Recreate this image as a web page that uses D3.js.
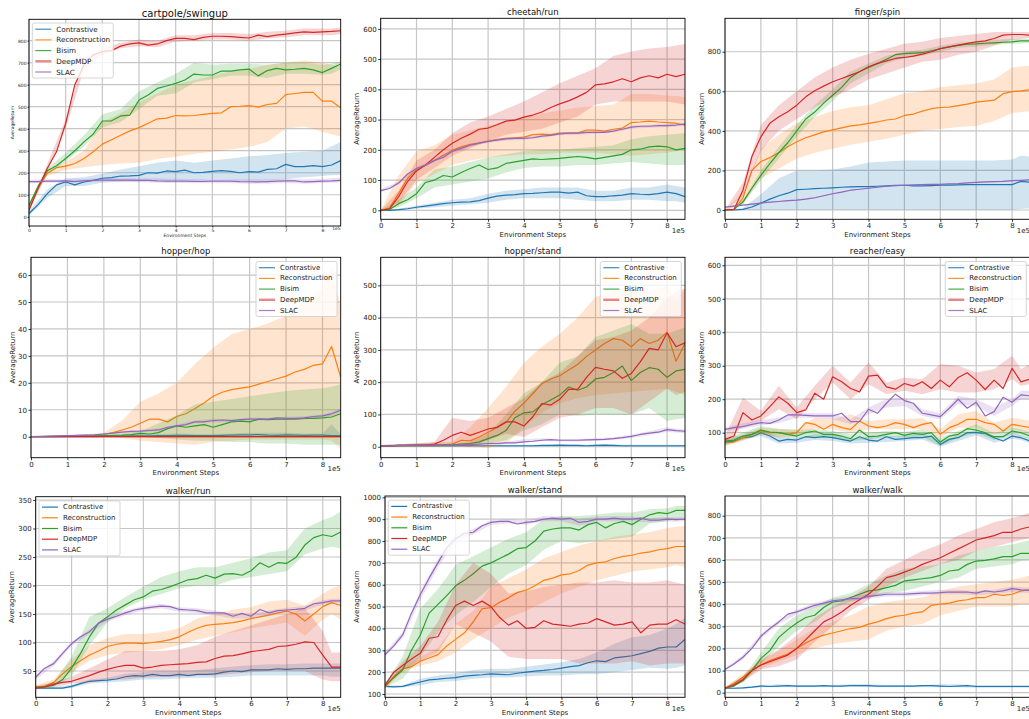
<!DOCTYPE html>
<html><head><meta charset="utf-8">
<script src="https://cdn.jsdelivr.net/npm/d3@7"></script>
<style>
body{margin:0;background:#fff;}
svg{display:block;font-family:"DejaVu Sans",sans-serif;}
</style></head><body>
<svg id="chart" width="1029" height="719"></svg>
<script>
// ---------- shared ----------
const SERIES = ["Contrastive","Reconstruction","Bisim","DeepMDP","SLAC"];
const COLORS = ["#1f77b4","#ff7f0e","#2ca02c","#d62728","#9467bd"];
// environment steps of the mean curves and of the shaded bands
const STEPS = [0,25000,50000,75000,100000,125000,150000,175000,200000,225000,250000,275000,300000,325000,350000,375000,400000,425000,450000,475000,500000,525000,550000,575000,600000,625000,650000,675000,700000,725000,750000,775000,800000,825000,850000];
const BAND_STEPS = [0,50000,100000,150000,200000,250000,300000,350000,400000,450000,500000,550000,600000,650000,700000,750000,800000,825000,850000];
const X_TICKS = [0,100000,200000,300000,400000,500000,600000,700000,800000];

// ---------- cartpole/swingup ----------
const cartpoleYTicks = [0,100,200,300,400,500,600,700,800];
const cartpoleMean = [
 [15,55,105,145,158,145,158,165,175,178,185,186,188,200,198,208,205,212,200,202,206,210,206,200,205,203,215,218,238,228,228,232,228,235,255],
 [50,135,197,223,230,242,265,295,330,350,370,390,405,425,445,448,460,458,460,465,470,472,500,502,505,498,510,515,555,560,565,565,525,525,495],
 [50,140,209,232,265,300,340,375,435,436,458,462,530,553,583,594,606,621,648,644,644,662,662,667,671,640,664,674,667,670,674,667,655,674,694],
 [30,130,220,295,424,600,690,735,750,755,775,785,790,780,785,800,810,810,805,815,820,820,818,815,812,825,818,825,830,835,840,838,840,842,845],
 [160,160,162,162,163,160,163,165,166,167,166,166,165,165,163,162,162,162,161,161,162,162,162,160,159,158,160,162,163,163,158,160,162,163,165]];
const cartpoleLo = [
 [5,85,140,140,155,160,160,165,165,165,170,168,160,165,170,180,185,188,190],
 [40,185,212,225,235,242,245,262,273,285,295,305,318,340,400,410,386,375,364],
 [40,195,250,320,405,430,490,550,560,610,625,640,640,630,650,650,645,650,670],
 [20,205,400,670,735,765,775,770,795,800,805,805,800,810,815,825,825,825,830],
 [152,155,155,157,160,158,157,155,153,152,152,152,150,150,153,150,153,155,157]];
const cartpoleHi = [
 [25,125,175,180,195,215,230,245,255,245,255,265,275,280,290,295,300,320,340],
 [60,210,250,300,430,470,520,560,600,620,640,660,670,690,700,710,700,690,680],
 [60,220,290,370,465,490,570,610,650,700,690,695,695,690,700,700,690,695,705],
 [40,240,445,720,765,790,805,800,825,825,835,835,830,840,845,855,855,855,860],
 [168,170,170,172,175,175,175,175,173,172,172,172,170,170,173,170,173,175,177]];

// ---------- cheetah/run ----------
const cheetahYTicks = [0,100,200,300,400,500,600];
const cheetahMean = [
 [0,0,2,5,10,14,18,22,25,27,28,32,40,47,50,52,55,56,58,60,60,57,60,48,45,45,48,50,55,53,52,55,60,55,45],
 [0,8,55,105,135,148,165,182,198,210,218,222,228,235,238,240,242,250,252,250,255,255,255,265,265,262,268,272,290,292,295,292,290,288,282],
 [0,3,22,35,55,92,100,115,110,125,138,150,135,140,155,160,165,170,168,170,172,175,178,175,170,175,180,185,200,202,210,212,210,200,205],
 [0,5,45,95,130,150,175,200,222,238,252,268,272,283,295,298,308,315,325,340,352,362,375,390,415,418,425,435,425,438,445,438,450,442,450],
 [65,72,90,120,138,150,165,175,195,205,215,222,228,232,236,238,238,240,245,248,253,255,255,258,258,258,262,268,275,278,278,280,280,282,285]];
const cheetahLo = [
 [0,0,5,10,15,20,25,35,40,40,40,35,30,30,35,35,30,30,25],
 [0,15,90,120,150,165,175,180,185,185,190,190,190,185,180,185,190,195,200],
 [0,10,40,75,85,95,105,125,140,145,145,150,150,155,160,155,150,150,150],
 [0,25,100,140,180,205,230,250,260,270,290,310,350,360,360,360,360,355,350],
 [60,85,133,160,190,210,223,231,233,240,248,250,253,257,270,273,275,277,280]];
const cheetahHi = [
 [0,5,15,25,35,40,55,65,70,75,75,75,65,65,75,75,85,80,75],
 [0,115,195,215,250,265,280,295,310,320,330,340,345,350,385,385,380,378,375],
 [0,35,75,135,145,160,175,185,195,200,200,205,210,215,235,245,250,252,255],
 [0,65,165,200,255,290,310,335,360,390,420,445,470,510,525,535,540,545,550],
 [70,95,143,170,200,220,233,241,243,250,258,260,263,267,280,283,285,287,290]];

// ---------- finger/spin ----------
const fingerYTicks = [0,200,400,600,800];
const fingerMean = [
 [0,0,3,15,35,55,72,85,103,105,108,110,112,115,117,118,118,120,122,125,125,122,122,123,125,126,127,128,128,128,128,128,128,145,140],
 [0,3,60,200,245,265,290,320,345,365,380,395,405,415,425,430,438,445,455,460,478,485,500,512,518,520,528,535,545,550,555,588,598,602,608],
 [0,3,40,110,175,235,290,340,400,460,495,540,580,620,670,700,720,740,762,785,790,793,795,805,815,825,832,838,840,843,845,848,850,855,855],
 [0,3,100,270,370,438,471,497,530,572,603,626,648,665,682,699,724,741,754,766,771,778,788,800,816,825,833,842,850,855,867,884,887,887,884],
 [15,20,25,30,35,40,43,47,50,55,62,72,82,90,100,105,110,115,120,123,125,127,128,130,130,132,133,137,140,142,143,145,148,150,152]];
const fingerLo = [
 [0,0,0,0,0,0,0,0,0,0,0,0,0,0,0,0,0,5,10],
 [0,30,160,210,260,290,310,330,345,360,380,400,410,420,425,450,490,495,500],
 [0,30,150,260,370,470,550,640,690,740,770,780,800,820,825,835,840,842,845],
 [0,70,300,400,460,520,570,610,660,690,720,750,760,785,800,830,860,865,870],
 [12,22,32,40,47,58,79,97,107,117,122,125,127,130,137,140,145,147,149]];
const fingerHi = [
 [0,10,80,160,200,200,205,220,240,245,250,250,250,250,250,250,255,275,270],
 [0,90,310,380,440,470,500,520,530,560,590,600,620,630,640,660,720,725,730],
 [0,50,200,320,430,530,610,700,740,780,800,810,830,845,850,860,865,865,865],
 [0,140,430,530,600,670,720,760,790,815,840,850,870,880,890,900,900,900,900],
 [18,28,38,46,53,66,85,103,113,123,128,131,133,136,143,146,151,153,155]];

// ---------- hopper/hop ----------
const hopYTicks = [0,10,20,30,40,50,60];
const hopMean = [
 [0,0,0,0,0,0,0,0,0.1,0.2,0.2,0.3,0.3,0.3,0.4,0.4,0.5,0.5,0.4,0.4,0.4,0.5,0.6,0.7,0.7,0.8,0.6,0.5,0.7,0.6,0.5,0.6,0.6,0.4,0.4],
 [0,0,0.1,0.2,0.3,0.4,0.5,0.6,0.8,1.5,2.5,3.5,5,6.5,6.5,5.5,7.5,8.5,10.5,12.5,15,16.5,17.5,18,18.5,19.5,20.5,21.5,22.5,24,25,26.5,27,33.5,22],
 [0,0,0,0,0.1,0.1,0.2,0.3,0.4,0.5,0.6,0.8,1.2,1.0,1.5,3,4,3.5,4,4.5,3.5,4.5,5.5,5.8,5.5,6.5,6.3,6.5,6.5,6.5,6.8,6.8,7,7.3,8.5],
 [0,0,0,0,0,0,0,0,0,0,0,0,0,0,0,0,0,0,0,0,0,0,0,0,0,0,0,0,0,0,0,0,0,0,0],
 [0,0.1,0.2,0.3,0.4,0.5,0.6,0.7,1,1.3,1.7,2,2.1,2.3,2.5,3.5,4,4.5,5.5,5.5,6,6.2,6,6.3,6.5,6.5,6.5,7,6.8,6.8,7,7.5,7.7,8.5,9.8]];
const hopLo = [
 [0,0,0,0,-0.3,-0.3,-0.3,-0.3,-0.3,-0.3,-0.3,-0.3,-0.3,-0.3,-0.3,-0.3,-0.3,-0.3,-0.3],
 [0,0,0,0,0,-0.5,-1.5,-2,-2.5,-3,-2,-1.5,-1,-1,-1,-1,-1,-1.5,-4.5],
 [0,0,0,0,0,0,0,-0.5,-1,-1.5,-1.5,-2,-2,-2.5,-2.5,-3,-3,-3,-3],
 [-0.2,-0.2,-0.2,-0.2,-0.2,-0.2,-0.2,-0.2,-0.2,-0.2,-0.2,-0.2,-0.2,-0.2,-0.2,-0.2,-0.2,-0.2,-0.2],
 [0,0,0.2,0.4,0.7,1.2,1.6,2,3.5,5,5.3,5.5,6,6,6.2,6.4,7.1,7.8,9.1]];
const hopHi = [
 [0,0,0,0,0.5,0.7,0.8,1,1.2,1,1,1.2,1.5,1.5,1.5,1.2,1.2,4.5,1],
 [0,0.2,0.5,0.8,1.5,6,13,16,20,27,33,38,40,42,45,50,55,63,48],
 [0,0,0,0,0.5,1,2,5,8,12,13,14,15,16,17,17.5,18,18.5,19.5],
 [0.2,0.2,0.2,0.2,0.2,0.2,0.2,0.2,0.2,0.2,0.2,0.2,0.2,0.2,0.2,0.2,0.2,0.2,0.2],
 [0,0.4,0.6,0.8,1.3,2.2,2.6,3,4.5,6,6.7,6.5,7,7,7.4,7.6,8.3,9.2,10.5]];

// ---------- hopper/stand ----------
const standYTicks = [0,100,200,300,400,500];
const standMean = [
 [2,2,3,3,3,3,3,3,3,3,3,3,3,3,3,3,3,3,4,4,5,4,4,3,4,5,4,3,3,3,3,3,3,3,3],
 [3,3,4,4,5,5,5,6,8,20,18,30,45,60,75,110,135,165,195,210,220,238,255,280,300,320,335,330,310,335,320,330,355,265,320],
 [3,3,3,4,4,4,5,5,5,8,10,15,25,35,50,90,105,108,130,145,160,185,175,185,210,215,230,250,205,230,245,240,215,235,240],
 [3,3,4,4,5,5,8,20,35,45,35,45,55,60,77,77,64,93,134,129,147,178,178,215,246,240,235,212,227,263,305,300,353,310,322],
 [3,3,4,4,5,5,5,5,6,6,7,8,10,10,12,12,15,17,20,22,20,20,20,21,22,23,25,28,32,38,42,45,53,50,48]];
const standLo = [
 [0,0,0,0,0,0,0,0,0,0,0,0,0,0,0,0,0,0,0],
 [0,0,0,0,0,-2,-5,10,60,105,135,150,160,165,170,175,180,170,160],
 [0,0,0,0,0,5,10,20,50,70,100,95,100,100,100,120,80,85,90],
 [0,0,0,0,5,0,20,40,30,60,90,100,120,120,100,140,180,160,170],
 [1,2,3,3,4,5,7,9,13,18,16,16,18,21,27,36,46,44,42]];
const standHi = [
 [4,5,6,6,6,6,6,6,6,6,7,7,7,7,6,6,6,6,6],
 [5,8,10,15,15,60,120,185,260,310,350,400,465,480,490,480,500,450,490],
 [5,8,10,10,10,15,40,100,165,200,260,280,340,360,380,350,350,360,370],
 [5,8,10,15,90,80,90,120,150,200,230,280,330,340,360,400,460,480,490],
 [5,6,7,7,8,9,13,15,23,26,24,24,26,29,37,48,60,56,54]];

// ---------- reacher/easy ----------
const reacherYTicks = [100,200,300,400,500,600];
const reacherMean = [
 [72,75,85,88,100,90,75,80,78,88,85,88,85,80,75,88,78,75,88,80,82,85,85,90,65,80,85,100,100,98,85,75,90,85,75],
 [70,72,85,95,105,100,100,95,100,130,125,110,125,115,110,135,120,115,120,130,125,115,125,130,95,115,125,140,140,130,125,105,125,120,115],
 [75,78,90,95,108,102,100,95,90,100,105,95,95,90,82,108,88,90,95,100,92,98,95,100,72,90,95,112,108,100,88,88,105,100,90],
 [80,90,160,138,150,178,207,188,160,168,218,200,267,252,232,222,269,272,237,230,247,239,252,232,257,237,265,279,257,229,257,232,292,252,260],
 [110,115,118,125,130,128,138,153,153,152,150,150,150,158,133,133,170,158,188,215,196,188,158,153,148,173,200,173,191,150,163,206,191,213,210]];
const reacherLo = [
 [62,78,90,68,70,78,75,68,70,72,75,80,58,75,92,70,82,78,68],
 [60,75,95,85,90,110,110,100,110,110,110,110,85,115,115,95,110,105,100],
 [65,80,95,88,85,85,85,75,80,88,85,88,60,85,100,78,95,90,80],
 [70,120,135,170,140,200,250,200,245,215,225,215,230,220,220,230,260,240,245],
 [105,112,122,128,145,145,140,125,155,175,180,150,140,185,180,150,180,200,200]];
const reacherHi = [
 [82,92,110,88,85,95,95,82,88,90,90,98,75,92,108,85,98,92,82],
 [80,95,115,110,110,145,140,155,135,140,140,145,110,155,165,130,145,140,135],
 [85,100,120,112,108,110,105,95,100,105,102,110,85,105,125,98,115,110,100],
 [90,205,165,240,175,240,300,250,310,250,265,260,305,300,280,290,330,290,305],
 [115,128,138,145,160,158,158,140,175,200,205,170,158,210,200,175,200,225,225]];

// ---------- walker/run ----------
const runYTicks = [50,100,150,200,250,300,350];
const runMean = [
 [20,20,20,20,23,28,32,33,34,36,40,42,41,44,42,42,44,42,44,44,45,48,50,49,52,52,52,54,53,54,54,55,55,55,55],
 [22,23,30,45,58,68,78,85,93,97,99,99,98,100,102,105,110,118,125,130,132,133,135,138,142,145,148,152,155,150,138,150,163,170,165],
 [22,22,25,35,55,81,110,134,145,157,166,175,180,190,193,198,204,210,212,218,213,220,221,218,226,240,232,240,239,249,271,284,289,286,294],
 [20,22,27,30,32,37,42,48,53,57,60,60,55,57,60,61,62,63,65,66,72,76,77,80,84,86,88,93,94,97,101,100,78,57,57],
 [39,55,63,81,98,110,119,134,141,146,152,157,160,162,164,163,158,157,156,152,152,152,146,151,146,158,152,156,157,158,160,168,170,173,173]];
const runLo = [
 [18,18,20,28,30,32,35,35,37,38,38,40,42,42,42,42,42,40,40],
 [20,27,48,68,78,82,85,88,95,105,112,118,125,130,135,112,140,150,140],
 [20,22,40,95,135,160,175,185,195,200,200,210,215,220,225,255,265,268,265],
 [18,22,28,30,35,35,38,40,40,42,42,45,48,50,50,50,35,32,32],
 [35,59,94,115,137,148,156,160,154,152,148,142,142,148,153,156,166,169,169]];
const runHi = [
 [22,22,26,35,38,45,48,50,50,52,55,58,60,62,62,63,63,63,63],
 [25,35,70,95,108,115,115,118,125,142,150,158,162,172,175,165,185,195,200],
 [24,30,75,145,160,180,198,215,225,232,232,240,248,258,262,300,315,320,330],
 [22,30,40,55,70,85,85,85,88,95,110,120,130,140,150,160,120,82,83],
 [43,67,102,123,145,156,164,168,162,160,156,150,150,156,161,164,174,177,177]];

// ---------- walker/stand ----------
const wstandYTicks = [100,200,300,400,500,600,700,800,900,1000];
const wstandMean = [
 [135,133,135,145,155,165,168,172,175,182,185,188,192,190,188,195,200,205,208,212,218,225,230,243,252,248,265,270,275,285,295,310,315,315,350],
 [130,180,215,225,250,265,280,320,350,380,430,490,495,520,540,565,575,595,620,630,645,650,665,690,700,705,720,730,735,745,750,760,765,775,775],
 [140,175,210,300,370,470,510,550,595,620,650,685,700,720,740,765,770,800,845,855,860,860,850,875,885,860,880,890,875,900,920,930,925,940,940],
 [140,200,230,260,286,355,362,439,505,525,505,525,500,450,415,435,400,405,435,420,415,410,420,425,445,430,415,420,430,380,415,420,420,440,420],
 [280,320,370,470,555,630,700,770,810,835,840,870,885,890,890,878,885,890,900,905,900,905,885,890,900,900,905,900,900,905,895,895,900,898,900]];
const wstandLo = [
 [130,130,140,155,160,170,175,175,180,185,185,190,190,200,210,220,215,220,230],
 [125,200,230,250,290,350,400,450,480,520,560,590,620,640,660,670,680,690,680],
 [130,170,270,380,460,520,590,650,690,760,800,790,800,810,820,880,890,900,910],
 [130,210,250,290,420,380,340,270,260,260,260,240,240,240,250,230,240,240,240],
 [270,355,530,680,800,830,875,880,875,890,890,870,890,890,890,885,890,888,890]];
const wstandHi = [
 [140,140,170,185,195,210,215,215,225,235,245,260,290,330,360,370,400,420,450],
 [135,230,270,310,420,480,590,630,670,720,750,780,800,820,830,840,860,865,870],
 [150,270,490,580,690,730,770,810,840,900,915,915,920,930,930,945,950,960,960],
 [150,250,320,430,600,700,650,560,570,590,600,610,610,620,610,610,620,610,600],
 [290,385,570,720,830,855,895,900,895,915,912,900,912,915,912,905,910,908,910]];

// ---------- walker/walk ----------
const walkYTicks = [0,100,200,300,400,500,600,700,800];
const walkMean = [
 [20,20,22,25,30,28,30,32,30,30,30,32,30,30,32,32,32,30,30,30,30,30,32,32,30,28,30,32,28,28,28,28,28,28,28],
 [20,40,70,100,125,145,160,175,200,225,245,260,270,280,290,295,310,320,335,345,350,360,365,395,400,405,415,420,430,430,445,440,445,460,465],
 [20,30,55,100,155,190,250,285,315,340,350,385,410,415,430,445,460,465,475,485,505,510,515,520,530,550,555,580,595,598,605,615,615,630,630],
 [20,35,60,100,125,140,155,170,200,240,280,320,340,365,395,420,445,480,520,530,545,560,580,595,610,630,650,670,690,700,710,725,725,740,750],
 [105,130,160,200,255,290,320,355,365,380,395,405,415,420,425,425,435,440,445,445,445,448,450,450,452,455,455,455,450,460,455,460,470,465,462]];
const walkLo = [
 [18,18,25,25,25,25,25,28,25,25,25,25,25,25,22,22,22,22,22],
 [18,55,110,140,170,200,220,230,240,280,300,310,350,370,390,390,390,400,400],
 [18,45,130,210,280,320,380,410,430,450,460,480,500,520,560,570,580,595,600],
 [18,50,105,120,150,230,300,370,420,480,520,550,580,600,640,660,680,690,700],
 [100,150,245,310,355,385,405,415,425,435,435,440,445,445,440,445,455,452,450]];
const walkHi = [
 [22,25,35,38,35,35,35,38,38,35,35,35,38,38,35,35,35,35,35],
 [25,85,145,190,240,290,320,350,390,410,420,430,460,480,490,500,510,520,530],
 [25,70,180,290,350,390,430,450,490,530,560,570,580,620,640,660,670,680,690],
 [25,75,150,195,260,340,390,430,480,560,600,640,670,710,740,770,790,800,815],
 [110,170,265,330,375,405,425,435,445,455,455,460,465,465,460,465,480,478,475]];

// ---------- layout ----------
const BIG = {tick:7, label:7, title:8.5, legend:7, tickLen:2.5, pad:1.5};
const panels = [
 {title:"cartpole/swingup", mean:cartpoleMean, lo:cartpoleLo, hi:cartpoleHi, yTicks:cartpoleYTicks,
  box:[29,19.3,340.7,226], yDomain:[-42,897], ylabX:12.3, legend:"ul", fadedDeep:true,
  f:{tick:4.5, label:4.5, title:10, legend:7.2, tickLen:1.5, pad:1}},
 {title:"cheetah/run", mean:cheetahMean, lo:cheetahLo, hi:cheetahHi, yTicks:cheetahYTicks,
  box:[380.7,18.3,685,219.3], yDomain:[-29.8,635], ylabX:357.3, legend:null, f:BIG},
 {title:"finger/spin", mean:fingerMean, lo:fingerLo, hi:fingerHi, yTicks:fingerYTicks,
  box:[725,18.3,1030,219.3], yDomain:[-47,969], ylabX:701.7, legend:null, f:BIG},
 {title:"hopper/hop", mean:hopMean, lo:hopLo, hi:hopHi, yTicks:hopYTicks,
  box:[31,257.3,340.7,457.7], yDomain:[-7.8,66.6], ylabX:13.3, legend:"ur", fadedDeep:true, f:BIG},
 {title:"hopper/stand", mean:standMean, lo:standLo, hi:standHi, yTicks:standYTicks,
  box:[380.7,257.3,685,457.7], yDomain:[-34,587], ylabX:357.3, legend:"ur", fadedDeep:true, f:BIG},
 {title:"reacher/easy", mean:reacherMean, lo:reacherLo, hi:reacherHi, yTicks:reacherYTicks,
  box:[725,257.3,1030,457.7], yDomain:[25.3,623.9], ylabX:701.7, legend:"ur", fadedDeep:true, f:BIG},
 {title:"walker/run", mean:runMean, lo:runLo, hi:runHi, yTicks:runYTicks,
  box:[35.7,496.7,340.7,697.3], yDomain:[3.9,355.8], ylabX:11.7, legend:"ul", f:BIG},
 {title:"walker/stand", mean:wstandMean, lo:wstandLo, hi:wstandHi, yTicks:wstandYTicks,
  box:[385,496,685,697.3], yDomain:[84.9,1006], ylabX:357.3, legend:"ul", f:BIG},
 {title:"walker/walk", mean:walkMean, lo:walkLo, hi:walkHi, yTicks:walkYTicks,
  box:[725,496,1030,697.3], yDomain:[-20.8,889], ylabX:701.7, legend:null, f:BIG}
];

const svg = d3.select("#chart");
svg.append("rect").attr("width",1029).attr("height",719).attr("fill","#fff");

panels.forEach((p, pi) => {
  const [L,T,R,B] = p.box;
  const f = p.f;
  const x = d3.scaleLinear().domain([0,850000]).range([L,R]);
  const y = d3.scaleLinear().domain(p.yDomain).range([B,T]);
  const g = svg.append("g");
  const cid = "clip"+pi;
  g.append("clipPath").attr("id",cid).append("rect")
    .attr("x",L).attr("y",T).attr("width",R-L).attr("height",B-T);

  // grid
  const grid = g.append("g").attr("stroke","#c6c6c6").attr("stroke-width",1.2);
  X_TICKS.forEach(t => grid.append("line").attr("x1",x(t)).attr("x2",x(t)).attr("y1",T).attr("y2",B));
  p.yTicks.forEach(t => grid.append("line").attr("x1",L).attr("x2",R).attr("y1",y(t)).attr("y2",y(t)));

  // series
  const plot = g.append("g").attr("clip-path",`url(#${cid})`);
  SERIES.forEach((s,i) => {
    const band = d3.zip(BAND_STEPS, p.lo[i], p.hi[i]);
    plot.append("path").datum(band)
      .attr("d", d3.area().x(d=>x(d[0])).y0(d=>y(d[1])).y1(d=>y(d[2])))
      .attr("fill",COLORS[i]).attr("fill-opacity",0.2);
    const line = d3.zip(STEPS, p.mean[i]);
    plot.append("path").datum(line)
      .attr("d", d3.line().x(d=>x(d[0])).y(d=>y(d[1])))
      .attr("fill","none").attr("stroke",COLORS[i]).attr("stroke-width",1.2)
      .attr("stroke-linejoin","round");
  });

  // axes
  const xAxis = d3.axisBottom(x).tickValues(X_TICKS).tickFormat(d=>d/100000)
    .tickSize(f.tickLen).tickPadding(f.pad);
  const yAxis = d3.axisLeft(y).tickValues(p.yTicks).tickFormat(d=>d)
    .tickSize(f.tickLen).tickPadding(f.pad);
  const ax = g.append("g").attr("transform",`translate(0,${B})`).call(xAxis);
  const ay = g.append("g").attr("transform",`translate(${L},0)`).call(yAxis);
  [ax,ay].forEach(a => {
    a.select(".domain").remove();
    a.selectAll("line").attr("stroke","#000").attr("stroke-width",0.8);
    a.selectAll("text").attr("font-size",f.tick).attr("fill","#222")
      .attr("font-family","DejaVu Sans");
  });

  // spines
  g.append("rect").attr("x",L).attr("y",T).attr("width",R-L).attr("height",B-T)
    .attr("fill","none").attr("stroke","#000").attr("stroke-width",0.9);

  // labels
  g.append("text").attr("x",(L+R)/2).attr("y",T-(pi===0?2:3))
    .attr("text-anchor","middle").attr("font-size",f.title).attr("fill","#111").text(p.title);
  g.append("text").attr("x",(L+Math.min(R,1029))/2 + (R>1029?0:0)).attr("y",B + (pi===0?11:17.5))
    .attr("text-anchor","middle").attr("font-size",f.label).attr("fill","#222")
    .attr("x",(L+R)/2).text("Environment Steps");
  g.append("text").attr("transform",`translate(${p.ylabX},${(T+B)/2}) rotate(-90)`)
    .attr("text-anchor","middle").attr("dominant-baseline","middle")
    .attr("font-size",f.label).attr("fill","#222").text("AverageReturn");
  g.append("text").attr("x",R).attr("y",B + (pi===0?3.5:13.5))
    .attr("text-anchor","end").attr("font-size",f.tick).attr("fill","#222").text("1e5");

  // legend
  if (p.legend) {
    const w = 81, h = 55;
    const lx = p.legend==="ul" ? L+3.3 : R-3.7-w;
    const ly = T + (pi===0 ? 3.7 : 4.2);
    const lg = g.append("g");
    lg.append("rect").attr("x",lx).attr("y",ly).attr("width",w).attr("height",h)
      .attr("rx",2).attr("fill","#fff").attr("fill-opacity",0.8)
      .attr("stroke","#cccccc").attr("stroke-width",0.8);
    SERIES.forEach((s,i) => {
      const yy = ly + 6.2 + i*10.7;
      const faded = p.fadedDeep && i===3;
      lg.append("line").attr("x1",lx+3).attr("x2",lx+19).attr("y1",yy).attr("y2",yy)
        .attr("stroke",COLORS[i]).attr("stroke-width",faded?2.4:1.2)
        .attr("stroke-opacity",faded?0.55:(p.fadedDeep?0.85:1));
      lg.append("text").attr("x",lx+24).attr("y",yy).attr("dominant-baseline","central")
        .attr("font-size",f.legend).attr("fill","#222").text(s);
    });
  }
});
</script>
</body></html>
